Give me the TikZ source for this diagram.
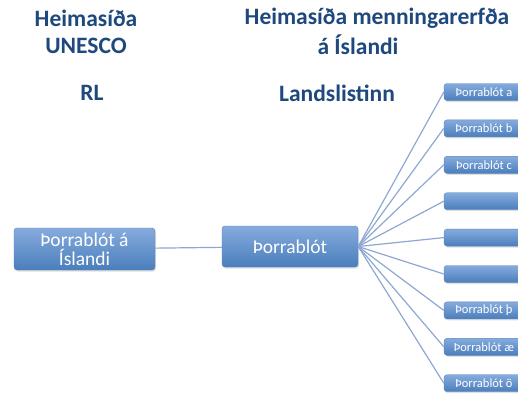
\documentclass[tikz,border=0pt]{standalone}
\usepackage{fontspec}
\setmainfont{Carlito}
\usetikzlibrary{shadows}

\definecolor{headblue}{HTML}{1F497D}
\definecolor{boxtop}{HTML}{86ABDD}
\definecolor{boxbottom}{HTML}{4A7EBC}
\definecolor{boxedge}{HTML}{5A86C0}
\definecolor{linkblue}{HTML}{8FA8D2}

\begin{document}
\begin{tikzpicture}[x=1pt, y=-1pt,
	heading/.style={font=\bfseries\fontsize{23.5}{27}\selectfont, text=headblue, align=center, inner sep=0pt},
	bigbox/.style={rounded corners=3pt, top color=boxtop, bottom color=boxbottom, draw=boxedge, line width=0.4pt,
		text=white, align=center, inner sep=0pt, font=\fontsize{19.5}{19}\selectfont,
		drop shadow={opacity=0.25, shadow xshift=1pt, shadow yshift=-1.5pt}},
	smallbox/.style={bigbox, minimum width=80, minimum height=17, font=\fontsize{12.5}{12}\selectfont},
	link/.style={draw=linkblue, line width=1.2pt}]

	\def \hubx {290}
	\def \gap {36.4} % distance between the small boxes

	\clip (0,0) rectangle (518,394);
	\fill[white] (0,0) rectangle (518,394);

	\node[heading] (unesco) at (86,31.5) {Heimasíða\\UNESCO};
	\node[heading] (rl) at (92,93) {RL};
	\node[heading] (menning) at (377,18) {Heimasíða menningarerfða};
	\node[heading] (island) at (358,45) {á Íslandi};
	\node[heading] (lands) at (337,93) {Landslistinn};

	\node[bigbox, minimum width=141, minimum height=42] (thorrabl) at (84.5,249) {Þorrablót á\\Íslandi};
	\node[bigbox, minimum width=136, minimum height=41] (thorri) at (\hubx,246.5) {Þorrablót};
	\draw[link] (thorrabl) -- (thorri);

	\foreach \lbl [count=\i] in {Þorrablót a, Þorrablót b, Þorrablót c, {}, {}, {},
		Þorrablót þ, Þorrablót æ, Þorrablót ö} {
	  \node[smallbox] (sub\i) at (484, {92+\gap*(\i-1)}) {\lbl};
	  \draw[link] (thorri.east) -- (sub\i.west);
	}

\end{tikzpicture}
\end{document}
